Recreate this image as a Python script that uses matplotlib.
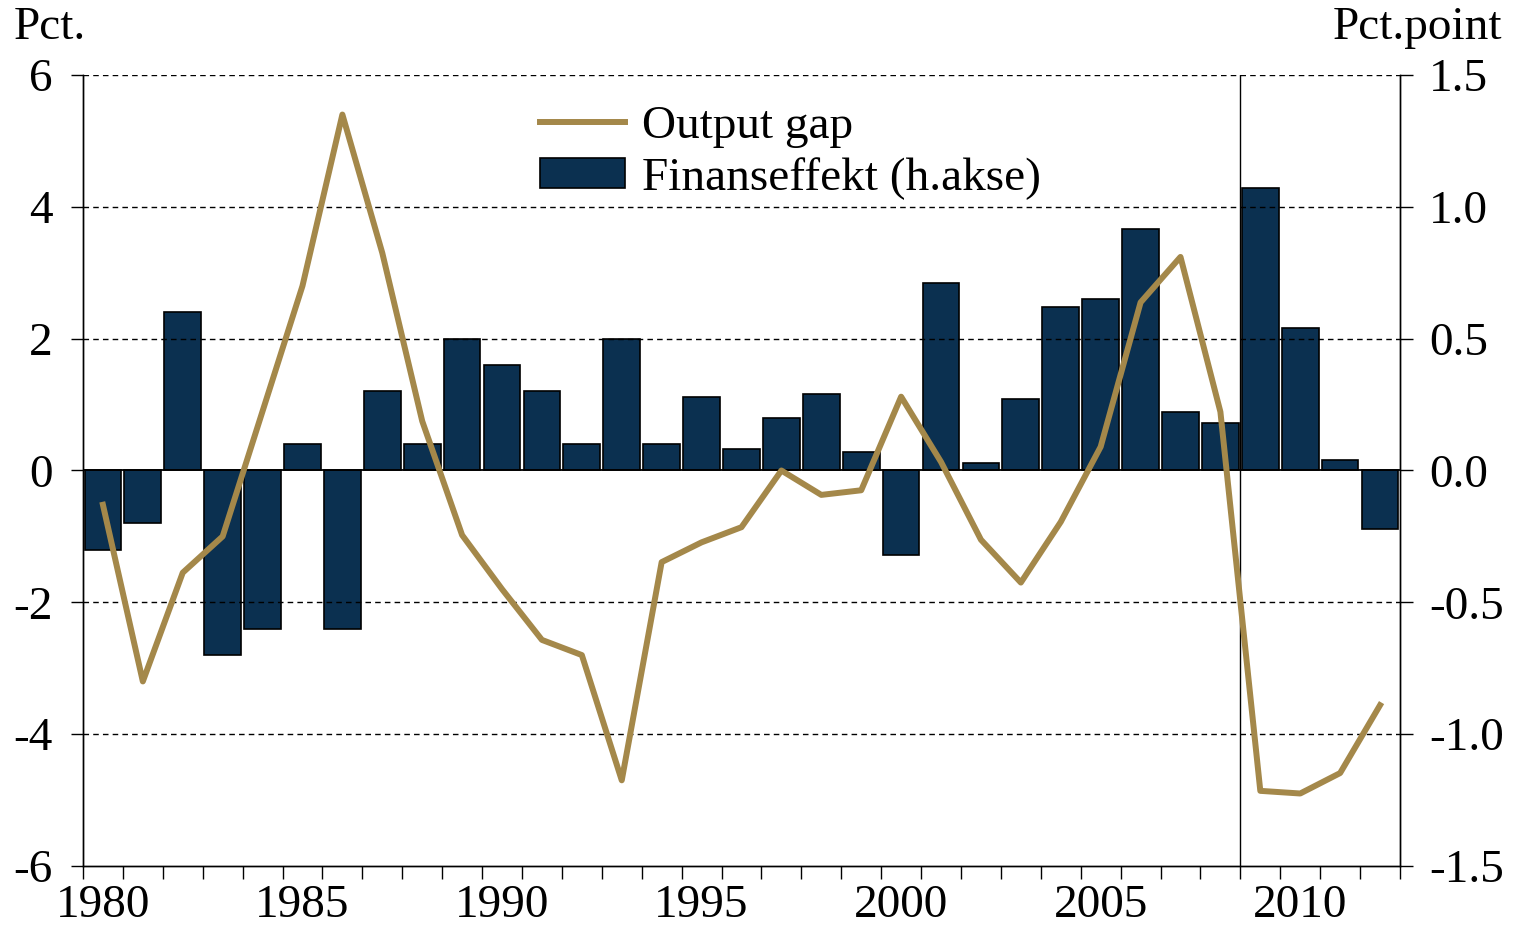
import matplotlib
matplotlib.use("Agg")
import matplotlib.pyplot as plt
import numpy as np

years = list(range(1980, 2013))
finanseffekt = [-0.30, -0.20, 0.60, -0.70, -0.60, 0.10, -0.60, 0.30, 0.10, 0.50,
                0.40, 0.30, 0.10, 0.50, 0.10, 0.28, 0.08, 0.20, 0.29, 0.07,
                -0.32, 0.71, 0.03, 0.27, 0.62, 0.65, 0.915, 0.22, 0.18, 1.07,
                0.54, 0.04, -0.22]
output_gap = [-0.52, -3.2, -1.55, -1.0, 0.9, 2.8, 5.4, 3.3, 0.75, -0.98,
              -1.8, -2.57, -2.8, -4.7, -1.39, -1.09, -0.86, 0.0, -0.37, -0.3,
              1.12, 0.13, -1.05, -1.7, -0.78, 0.36, 2.55, 3.24, 0.89, -4.86,
              -4.9, -4.59, -3.56]
xlabels = ["1980", "1985", "1990", "1995", "2000", "2005", "2010"]
left_ticks = [-6, -4, -2, 0, 2, 4, 6]
right_ticks = [-1.5, -1.0, -0.5, 0.0, 0.5, 1.0, 1.5]

plt.rcParams['font.family'] = ['Liberation Serif', 'DejaVu Serif']
FS = 34
GOLD = '#a4884a'
NAVY = '#0b3050'

fig = plt.figure(figsize=(15.14, 9.27), dpi=100)
ax = fig.add_axes([0.0548, 0.0658, 0.8699, 0.8533])
ax2 = ax.twinx()

x = np.array(years) + 0.5
ax2.bar(x, finanseffekt, width=0.92, color=NAVY, edgecolor='black', linewidth=1.2, zorder=2,
        label='Finanseffekt (h.akse)')
ax2.set_ylim(-1.5, 1.5)
ax.set_ylim(-6, 6)
ax.set_xlim(1980, 2013)

ax.set_zorder(ax2.get_zorder() + 1)
ax.patch.set_visible(False)

for t in [-4, -2, 2, 4, 6]:
    ax.axhline(t, color='black', linestyle=(0, (4, 3)), linewidth=1.0, zorder=0)
ax.axhline(0, color='black', linewidth=1.3, zorder=1)
ax.axvline(2009, color='black', linewidth=1.0, zorder=1)
ln, = ax.plot(x, output_gap, color=GOLD, linewidth=4.3, zorder=5, label='Output gap')

ax.set_yticks(left_ticks)
ax.set_yticklabels([f"{v:d}" for v in left_ticks], fontsize=FS)
ax2.set_yticks(right_ticks)
ax2.set_yticklabels([f"{v:.1f}" for v in right_ticks], fontsize=FS)
ax.set_xticks(range(1980, 2014))
ax.set_xticklabels([])
ax.set_xticks([int(l) + 0.5 for l in xlabels], minor=True)
ax.set_xticklabels(xlabels, minor=True, fontsize=FS)
ax.tick_params(axis='x', which='major', direction='out', length=9, width=1.0)
ax.tick_params(axis='x', which='minor', length=0, pad=13)
ax.tick_params(axis='y', direction='out', length=9, width=1.0, pad=13)
ax2.tick_params(axis='y', direction='out', length=9, width=1.0, pad=12)

for a in (ax, ax2):
    a.spines['top'].set_visible(False)
    for s in ('left', 'right', 'bottom'):
        a.spines[s].set_linewidth(1.0)

fig.text(0.009, 0.970, 'Pct.', fontsize=FS, ha='left', va='center')
fig.text(0.992, 0.970, 'Pct.point', fontsize=FS, ha='right', va='center')

handles = [ln] + ax2.get_legend_handles_labels()[0]
labels = ['Output gap', 'Finanseffekt (h.akse)']
leg = ax.legend(handles, labels, loc='upper left', bbox_to_anchor=(0.347, 0.962),
                frameon=False, fontsize=FS, handlelength=1.8, handleheight=0.6,
                labelspacing=0.2, handletextpad=0.35, borderaxespad=0.0, borderpad=0.0)

fig.savefig('out.png', dpi=100)
